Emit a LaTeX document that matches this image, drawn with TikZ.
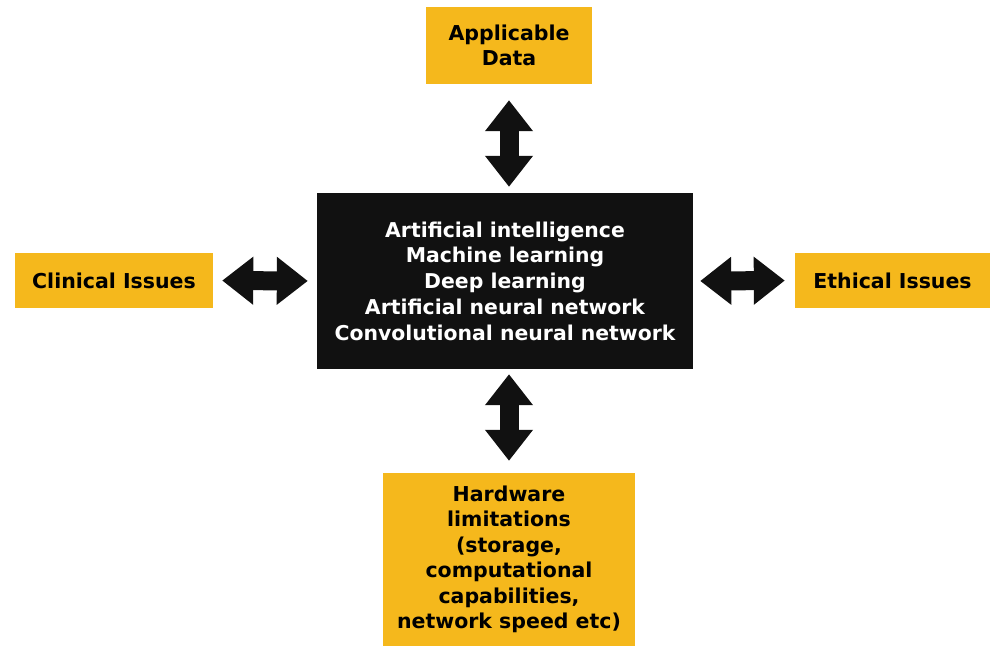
\documentclass[tikz,border=0pt]{standalone}
\usepackage{fontspec}
\setmainfont{DejaVu Sans}
\usepackage{xcolor}
\usetikzlibrary{arrows.meta, positioning}
\definecolor{boxyellow}{HTML}{F5B81C}
\definecolor{boxblack}{HTML}{111111}

\begin{document}
\begin{tikzpicture}[x=1pt, y=-1pt,
        yellowbox/.style={fill=boxyellow, align=center, inner sep=0pt,
            font=\fontsize{20.5}{25.5}\selectfont\bfseries},
        corebox/.style={fill=boxblack, text=white, align=center, inner sep=0pt,
            font=\fontsize{20.4}{25.75}\selectfont\bfseries},
        blockarrow/.style={line width=19pt, boxblack,
            {Triangle[width=46pt, length=31pt]}-{Triangle[width=46pt, length=31pt]}}]
        \useasboundingbox (0, 0) rectangle (992, 646);

        \node[yellowbox, minimum width=166pt, minimum height=77pt] (data) at (509, 45.5) {Applicable\\Data};
        \node[corebox, minimum width=376pt, minimum height=176pt] (core) at (505, 281) {Artificial intelligence\\Machine learning\\Deep learning\\Artificial neural network\\Convolutional neural network};
        \node[yellowbox, minimum width=198pt, minimum height=55pt] (clinical) at (114, 280.5) {Clinical Issues};
        \node[yellowbox, minimum width=195pt, minimum height=55pt] (ethical) at (892.5, 280.5) {Ethical Issues};
        \node[yellowbox, minimum width=252pt, minimum height=173pt] (hardware) at (509, 559.5) {Hardware\\limitations\\(storage,\\computational\\capabilities,\\network speed etc)};

        \draw[blockarrow, shorten <=16pt, shorten >=6pt] (data.south) -- (data.south |- core.north);
        \draw[blockarrow, shorten <=5pt, shorten >=12pt] (hardware.north |- core.south) -- (hardware.north);
        \draw[blockarrow, shorten <=9pt, shorten >=9pt] (clinical.east) -- (core.west);
        \draw[blockarrow, shorten <=7pt, shorten >=10pt] (core.east) -- (ethical.west);
    \end{tikzpicture}
\end{document}
